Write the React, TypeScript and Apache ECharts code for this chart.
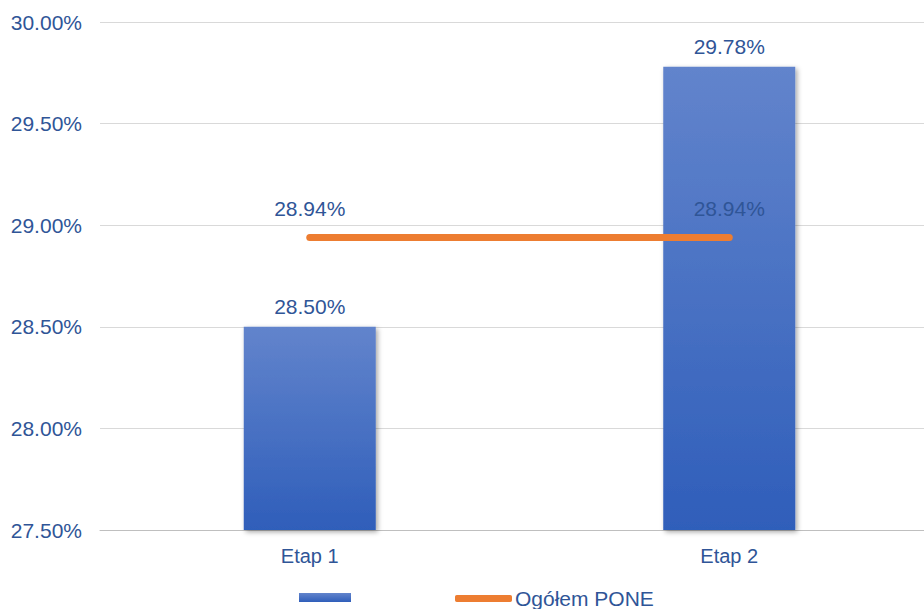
import React, { useEffect, useRef } from "react";
import * as echarts from "echarts";

const categories = ["Etap 1", "Etap 2"];
const barValues = [28.5, 29.78];
const lineValues = [28.94, 28.94];
const lineName = "Ogółem PONE";
const barName = " ";

const blue = "#2F5597";

export default function App() {
  const ref = useRef<HTMLDivElement>(null);
  useEffect(() => {
    const chart = echarts.init(ref.current!, null, { renderer: "svg" });
    chart.setOption({
      animation: false,
      textStyle: { fontFamily: "Liberation Sans, Arial, sans-serif" },
      grid: { left: 100, right: 0, top: 22, bottom: 79, containLabel: false },
      legend: [
        {
          data: [{ name: barName, icon: "rect" }],
          left: 299,
          top: 587,
          itemWidth: 52,
          itemHeight: 9,
          padding: 0,
          textStyle: { fontSize: 21, color: blue },
        },
        {
          data: [{ name: lineName, icon: "roundRect", itemStyle: { color: "#ED7D31" } }],
          left: 455,
          top: 588,
          itemWidth: 57,
          itemHeight: 7,
          itemGap: 3,
          padding: 0,
          textStyle: { fontSize: 21, color: blue, padding: [0, 0, 0, -2] },
        },
      ],
      xAxis: {
        type: "category",
        data: categories,
        axisTick: { show: false },
        axisLine: { lineStyle: { color: "#BFBFBF", width: 1 } },
        axisLabel: { color: blue, fontSize: 20, margin: 16 },
      },
      yAxis: {
        type: "value",
        min: 27.5,
        max: 30,
        interval: 0.5,
        axisLine: { show: false },
        axisTick: { show: false },
        splitLine: { lineStyle: { color: "#D9D9D9", width: 1 } },
        axisLabel: {
          color: blue,
          fontSize: 21,
          margin: 18,
          formatter: (v: number) => v.toFixed(2) + "%",
        },
      },
      series: [
        {
          name: barName,
          type: "bar",
          data: barValues,
          barWidth: 132,
          itemStyle: {
            color: new echarts.graphic.LinearGradient(0, 0, 0, 1, [
              { offset: 0, color: "#6284CC" },
              { offset: 1, color: "#2F5EBA" },
            ]),
            shadowBlur: 5,
            shadowColor: "rgba(0,0,0,0.35)",
            shadowOffsetX: 2,
            shadowOffsetY: 2,
          },
          label: {
            show: true,
            position: "top",
            distance: 10,
            color: blue,
            fontSize: 21,
            formatter: (p: any) => p.value.toFixed(2) + "%",
          },
        },
        {
          name: lineName,
          type: "line",
          data: lineValues,
          symbol: "circle",
          symbolSize: 1,
          showSymbol: true,
          itemStyle: { color: "#ED7D31" },
          lineStyle: {
            color: "#ED7D31",
            width: 7,
            cap: "round",
          },
          label: {
            show: true,
            position: "top",
            distance: 18,
            color: blue,
            fontSize: 21,
            formatter: (p: any) => p.value.toFixed(2) + "%",
          },
          z: 3,
        },
      ],
    });
    return () => chart.dispose();
  }, []);
  return (
    <div style={{ width: 924, height: 609, position: "absolute", left: 0, top: 0, overflow: "hidden" }}>
      <div ref={ref} style={{ width: 939, height: 609, position: "absolute", left: 0, top: 0 }} />
    </div>
  );
}
